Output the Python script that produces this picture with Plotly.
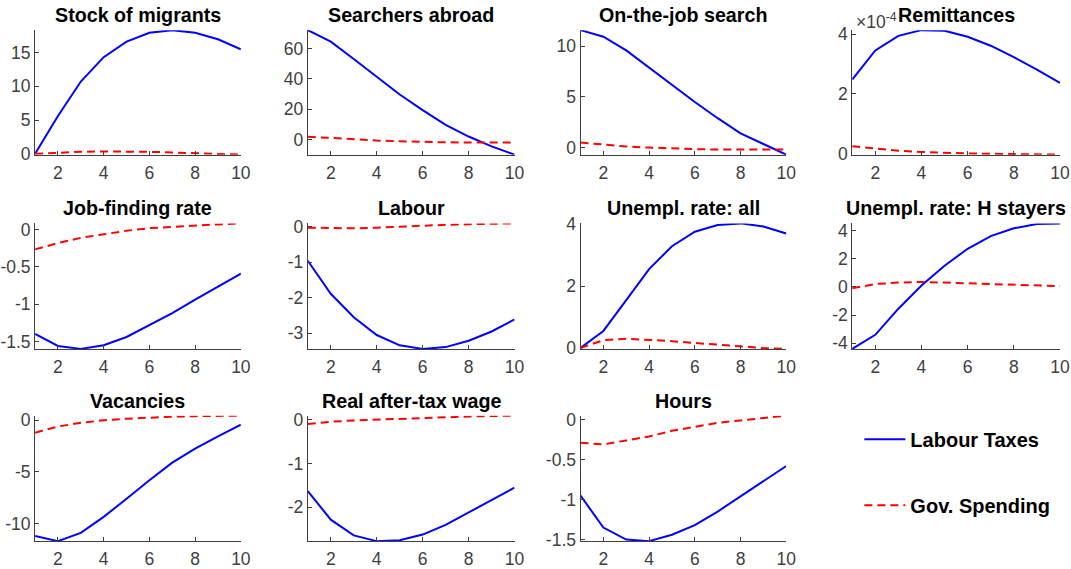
import plotly.graph_objects as go

# ---------------- data ----------------
periods = [1, 2, 3, 4, 5, 6, 7, 8, 9, 10]
x_ticks = [2, 4, 6, 8, 10]

titles = ["Stock of migrants", "Searchers abroad", "On-the-job search", "Remittances",
          "Job-finding rate", "Labour", "Unempl. rate: all", "Unempl. rate: H stayers",
          "Vacancies", "Real after-tax wage", "Hours"]

stock_tax = [0, 5.6, 10.7, 14.3, 16.6, 17.9, 18.3, 17.9, 16.95, 15.45]
stock_gov = [0, 0.2, 0.3, 0.35, 0.35, 0.3, 0.2, 0.1, 0.0, -0.12]

search_tax = [72, 64.4, 53, 41.6, 29.7, 19.5, 9.8, 2.1, -4.4, -9.8]
search_gov = [2, 1, 0.2, -0.5, -1.0, -1.5, -1.7, -1.8, -1.8, -1.8]

otj_tax = [11.6, 10.95, 9.6, 7.9, 6.2, 4.5, 2.9, 1.4, 0.35, -0.7]
otj_gov = [0.5, 0.3, 0.1, 0.0, -0.1, -0.15, -0.2, -0.2, -0.2, -0.2]

remit_tax = [2.48e-4, 3.45e-4, 3.94e-4, 4.13e-4, 4.11e-4, 3.91e-4, 3.61e-4, 3.23e-4, 2.81e-4, 2.37e-4]
remit_gov = [0.25e-4, 0.17e-4, 0.10e-4, 0.06e-4, 0.03e-4, 0.01e-4, 0.0, -0.01e-4, -0.02e-4, -0.03e-4]

jfr_tax = [-1.40, -1.56, -1.60, -1.55, -1.44, -1.28, -1.12, -0.94, -0.77, -0.59]
jfr_gov = [-0.265, -0.18, -0.11, -0.06, -0.015, 0.02, 0.04, 0.057, 0.07, 0.084]

labour_tax = [-0.96, -1.89, -2.55, -3.05, -3.34, -3.44, -3.39, -3.21, -2.95, -2.61]
labour_gov = [-0.03, -0.05, -0.05, -0.03, 0.0, 0.03, 0.05, 0.065, 0.08, 0.09]

urall_tax = [0, 0.55, 1.55, 2.55, 3.29, 3.76, 3.98, 4.03, 3.93, 3.7]
urall_gov = [0, 0.25, 0.3, 0.27, 0.22, 0.16, 0.1, 0.04, 0.0, -0.03]

urh_tax = [-4.4, -3.4, -1.55, 0.1, 1.5, 2.7, 3.6, 4.15, 4.45, 4.5]
urh_gov = [-0.1, 0.2, 0.3, 0.35, 0.3, 0.25, 0.18, 0.12, 0.08, 0.05]

vac_tax = [-11.2, -11.7, -10.9, -9.35, -7.6, -5.8, -4.1, -2.75, -1.55, -0.42]
vac_gov = [-1.2, -0.6, -0.25, 0.0, 0.15, 0.28, 0.35, 0.4, 0.43, 0.45]

wage_tax = [-1.63, -2.28, -2.64, -2.77, -2.75, -2.62, -2.4, -2.12, -1.84, -1.55]
wage_gov = [-0.1, -0.05, -0.02, 0.0, 0.02, 0.045, 0.06, 0.07, 0.08, 0.09]

hours_tax = [-0.95, -1.35, -1.5, -1.52, -1.44, -1.32, -1.15, -0.96, -0.76, -0.58]
hours_gov = [-0.29, -0.31, -0.26, -0.21, -0.14, -0.09, -0.04, -0.01, 0.02, 0.05]

tax_series = [stock_tax, search_tax, otj_tax, remit_tax, jfr_tax, labour_tax,
              urall_tax, urh_tax, vac_tax, wage_tax, hours_tax]
gov_series = [stock_gov, search_gov, otj_gov, remit_gov, jfr_gov, labour_gov,
              urall_gov, urh_gov, vac_gov, wage_gov, hours_gov]

y_ticks = [[0, 5, 10, 15], [0, 20, 40, 60], [0, 5, 10], [0, 2e-4, 4e-4],
           [-1.5, -1, -0.5, 0], [-3, -2, -1, 0], [0, 2, 4], [-4, -2, 0, 2, 4],
           [-10, -5, 0], [-2, -1, 0], [-1.5, -1, -0.5, 0]]
y_ticktext = [None, None, None, ["0", "2", "4"], None, None, None, None, None, None, None]

series_names = ["Labour Taxes", "Gov. Spending"]

# ---------------- layout ----------------
# target positions (pixels in the final picture)
cols_px = [(36, 242), (309, 516), (582, 788), (854, 1062)]
rows_px = [(29, 154), (223, 349), (416, 542)]

# calibration between page pixels and the photographed picture
SX, SY, OFF = 0.9853, 0.9726, 8.0
W, H = 1079, 577


def page_x(t):
    return t / SX - OFF


def page_y(t):
    return t / SY - OFF


def fx(t):
    return page_x(t) / W


def fy(t):
    return 1 - page_y(t) / H


FONT = "Liberation Sans, Arial, Helvetica, sans-serif"
AX_COLOR = "#404040"
BLUE = "rgb(0,0,255)"
RED = "rgb(255,0,0)"
TICK_SIZE = 17.5

fig = go.Figure()
layout = dict(
    width=W, height=H,
    margin=dict(l=0, r=0, t=0, b=0),
    paper_bgcolor="white", plot_bgcolor="white",
    showlegend=True,
    legend=dict(x=866 / W, y=1 - 424 / H, xanchor="left", yanchor="top",
                font=dict(family=FONT, size=20, color="black", weight="bold"),
                itemwidth=41, tracegroupgap=37, bgcolor="rgba(0,0,0,0)"),
)
annotations = []

for i, title in enumerate(titles):
    r, c = divmod(i, 4)
    x0, x1 = cols_px[c]
    y0, y1 = rows_px[r]
    n = "" if i == 0 else str(i + 1)
    tax = tax_series[i]
    gov = gov_series[i]
    lo = min(min(tax), min(gov))
    hi = max(max(tax), max(gov))
    fig.add_trace(go.Scatter(x=periods, y=tax, mode="lines", name=series_names[0],
                             line=dict(color=BLUE, width=2), xaxis="x" + n, yaxis="y" + n,
                             showlegend=(i == 0), legendgroup="a"))
    fig.add_trace(go.Scatter(x=periods, y=gov, mode="lines", name=series_names[1],
                             line=dict(color=RED, width=2, dash="8px,5px"), xaxis="x" + n, yaxis="y" + n,
                             showlegend=(i == 0), legendgroup="b"))
    tt = y_ticktext[i] if y_ticktext[i] is not None else [f"{v:g}" for v in y_ticks[i]]
    layout["xaxis" + n] = dict(
        domain=[fx(x0), fx(x1)], anchor="y" + n, range=[1, 10],
        tickvals=x_ticks, ticktext=[str(v) for v in x_ticks],
        ticks="inside", ticklen=4, tickcolor=AX_COLOR,
        showline=True, linecolor=AX_COLOR, linewidth=1,
        showgrid=False, zeroline=False, ticklabelstandoff=2,
        tickfont=dict(family=FONT, size=TICK_SIZE, color=AX_COLOR),
    )
    layout["yaxis" + n] = dict(
        domain=[fy(y1), fy(y0)], anchor="x" + n, range=[lo, hi],
        tickvals=y_ticks[i], ticktext=tt,
        ticks="inside", ticklen=4, tickcolor=AX_COLOR,
        showline=True, linecolor=AX_COLOR, linewidth=1,
        showgrid=False, zeroline=False,
        tickfont=dict(family=FONT, size=TICK_SIZE, color=AX_COLOR),
    )
    annotations.append(dict(
        text=f"<b>{title}</b>", x=fx((x0 + x1) / 2), y=fy(y0 - 15),
        xref="paper", yref="paper", xanchor="center", yanchor="middle",
        showarrow=False, font=dict(family=FONT, size=19.7, color="black"),
    ))

# exponent label for remittances panel
annotations.insert(0, dict(
    text="×10<sup>-4</sup>", x=fx(856), y=fy(20), xref="paper", yref="paper",
    xanchor="left", yanchor="middle", showarrow=False,
    font=dict(family=FONT, size=TICK_SIZE, color=AX_COLOR),
))
layout["annotations"] = annotations

fig.update_layout(**layout)

pin_js = (
    "document.documentElement.style.margin='0';"
    "document.documentElement.style.overflow='hidden';"
    "document.body.style.margin='0';"
    "document.body.style.overflow='hidden';"
    "var gd=document.getElementById('{plot_id}');"
    "gd.style.position='fixed';gd.style.left='0px';gd.style.top='0px';"
)
fig.write_html("out.html", config={"displayModeBar": False}, post_script=pin_js)
